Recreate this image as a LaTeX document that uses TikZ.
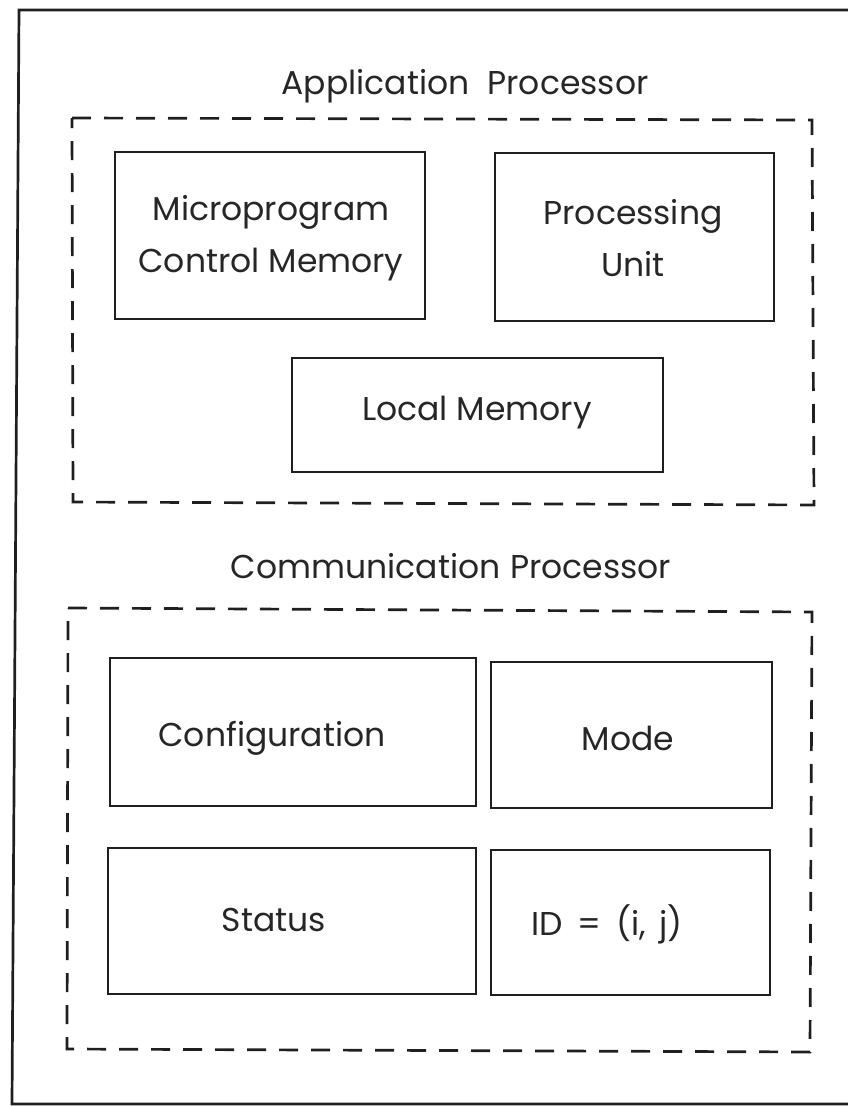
\documentclass[tikz,border=0pt]{standalone}
\usepackage{fontspec}
\setmainfont{Poppins}
\begin{document}
\begin{tikzpicture}[x=1pt,y=-1pt,
  ink/.style={draw=black!88, line width=2.7pt},
  unitbox/.style={ink, line join=miter},
  groupbox/.style={draw=black!88, line width=2.7pt, dash pattern=on 19pt off 13pt},
  lbl/.style={font=\fontsize{33}{52}\selectfont, text=black!85, align=center},
  title/.style={font=\fontsize{33}{38}\selectfont, text=black!85}]
\useasboundingbox (0,0) rectangle (848,1106);
% outer frame (right side runs off the page)
\draw[ink] (860,10) -- (19,10) -- (12,1104) -- (860,1104);

% application processor group
\node[title] (aptitle) at (465,86) {Application\hspace{0.55em}Processor};
\draw[groupbox] (72,118) -- (812,120) -- (814,505) -- (73,502) -- cycle;
\draw[unitbox] (115,152) rectangle (425,319);
\node[lbl] (mcm) at (271,238) {Microprogram\\Control Memory};
\draw[unitbox] (495,153) rectangle (774,321);
\node[lbl] (pu) at (633,238) {Processing\\Unit};
\draw[unitbox] (292,358) rectangle (663,472);
\node[lbl] (lm) at (477,413) {Local Memory};

% communication processor group
\node[title] (cptitle) at (451,566) {Communication\hspace{0.3em}Processor};
\draw[groupbox] (68,608) -- (812,612) -- (810,1052) -- (67,1049) -- cycle;
\draw[unitbox] (110,658) rectangle (476,806);
\node[lbl] (cfg) at (272,738) {Configuration};
\draw[unitbox] (491,662) rectangle (772,808);
\node[lbl] (mode) at (628,738) {Mode};
\draw[unitbox] (108,848) rectangle (476,994);
\node[lbl] (st) at (274,920) {Status};
\draw[unitbox] (491,850) rectangle (770,995);
\node[lbl] (id) at (607,924) {ID\hspace{0.45em}=\hspace{0.45em}(i,\hspace{0.4em}j)};
\end{tikzpicture}
\end{document}
